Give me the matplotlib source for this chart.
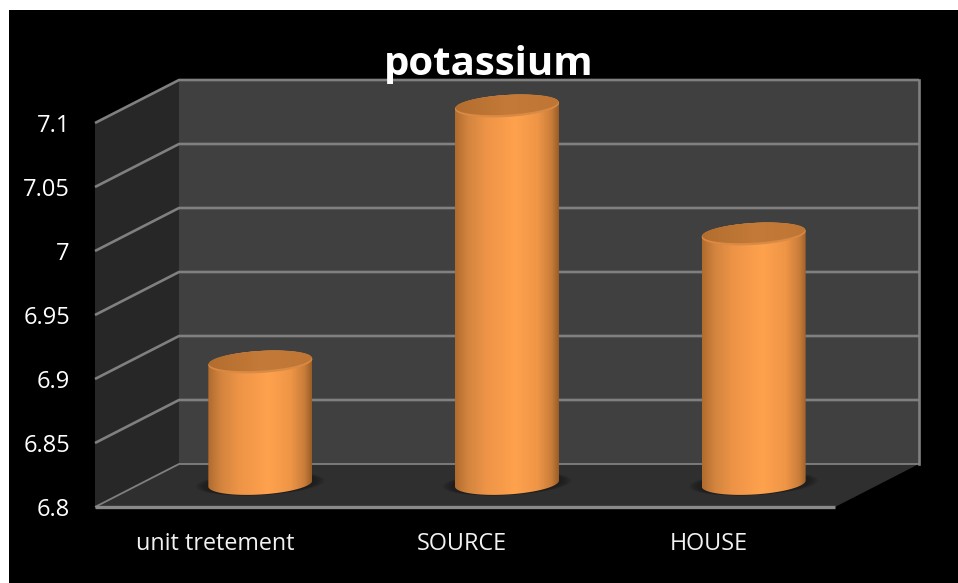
import numpy as np
import matplotlib
matplotlib.use('Agg')
import matplotlib.pyplot as plt
from matplotlib.colors import LinearSegmentedColormap
from matplotlib.patches import Polygon, Rectangle

categories = ['unit tretement', 'SOURCE', 'HOUSE']
values = [6.9, 7.1, 7.0]
yticks = [6.8, 6.85, 6.9, 6.95, 7.0, 7.05, 7.1]
ytick_labels = ['6.8', '6.85', '6.9', '6.95', '7', '7.05', '7.1']
title = 'potassium'

W, H = 958, 583
# pixel size of one category / one value unit on the front plane
CAT_PX = 740 / 3
VAL_PX = 384 / 0.3
X0, Y0 = 95, 507   # where the front plane starts
DEPTH_X = 84 / CAT_PX
DEPTH_Y = 43 / VAL_PX
XMIN, XMAX = -0.5, 2.5
YMIN, YMAX = yticks[0], yticks[-1]

plt.rcParams['font.family'] = ['Open Sans', 'DejaVu Sans']

fig = plt.figure(figsize=(W / 100, H / 100), dpi=100, facecolor='white')
ax = fig.add_axes([0, 0, 1, 1])
ax.axis('off')
xlim = (XMIN - X0 / CAT_PX, XMIN + (W - X0) / CAT_PX)
ylim = (YMIN - (H - Y0) / VAL_PX, YMIN + Y0 / VAL_PX)

# black slide behind everything, white margin on the top and left
ax.add_patch(Rectangle((xlim[0] + 9 / CAT_PX, ylim[0]), xlim[1] - xlim[0], ylim[1] - ylim[0] - 10 / VAL_PX,
                       fc='black', ec='none', zorder=0))

# walls and floor of the 3d box
ax.add_patch(Polygon([(XMIN + DEPTH_X, YMIN + DEPTH_Y), (XMAX + DEPTH_X, YMIN + DEPTH_Y),
                      (XMAX + DEPTH_X, YMAX + DEPTH_Y), (XMIN + DEPTH_X, YMAX + DEPTH_Y)],
                     fc='#404040', ec='none', zorder=1))
ax.add_patch(Polygon([(XMIN, YMIN), (XMIN + DEPTH_X, YMIN + DEPTH_Y),
                      (XMIN + DEPTH_X, YMAX + DEPTH_Y), (XMIN, YMAX)],
                     fc='#272727', ec='none', zorder=1))
ax.add_patch(Polygon([(XMIN, YMIN), (XMAX, YMIN), (XMAX + DEPTH_X, YMIN + DEPTH_Y),
                      (XMIN + DEPTH_X, YMIN + DEPTH_Y)],
                     fc='#2f2f2f', ec='none', zorder=1))

# gridlines run along the left wall and then the back wall
grid_color = '#808080'
for v in yticks:
    lw = 1.3 if v == YMIN else 1.9
    ax.plot([XMIN, XMIN + DEPTH_X, XMAX + DEPTH_X], [v, v + DEPTH_Y, v + DEPTH_Y],
            color=grid_color, lw=lw, zorder=2, solid_capstyle='butt')
ax.plot([XMAX + DEPTH_X] * 2, [YMIN + DEPTH_Y, YMAX + DEPTH_Y], color=grid_color, lw=1.9, zorder=2)
ax.plot([XMIN, XMAX], [YMIN, YMIN], color='#8a8a8a', lw=2.4, zorder=2, solid_capstyle='butt')

body_cmap = LinearSegmentedColormap.from_list('body', [
    (0.0, '#b06b2f'), (0.12, '#d2843e'), (0.3, '#ee9447'), (0.58, '#ffa24e'),
    (0.8, '#ee9546'), (0.93, '#c97d3a'), (1.0, '#9a5d27')])
top_cmap = LinearSegmentedColormap.from_list('top', ['#b26d2e', '#c47a38', '#bf7634'])
gradient = np.linspace(0, 1, 256).reshape(1, -1)

RX = 52 / CAT_PX
RY = 11 / VAL_PX
TILT = 3 / VAL_PX
BASE_LIFT = 23.5 / VAL_PX
TOP_LIFT = 17 / VAL_PX
t = np.linspace(0, 2 * np.pi, 181)


def ellipse(cx, cy, rx=RX, ry=RY, tilt=TILT):
    return np.column_stack([cx + rx * np.cos(t), cy + ry * np.sin(t) + tilt * np.cos(t)])


for i, v in enumerate(values):
    cx = i + DEPTH_X / 2
    base = YMIN + BASE_LIFT
    top = v + TOP_LIFT

    # soft shadow on the floor
    for k in np.linspace(1.0, 0.2, 10):
        ax.add_patch(Polygon(ellipse(cx, base, RX * (1 + 0.24 * k), RY * (1 + 0.05 * k)),
                             fc='#1a1a1a', ec='none', alpha=0.10, zorder=3))

    # cylinder side: lower half of the bottom ellipse plus the top ellipse
    lower = ellipse(cx, base)[t >= np.pi]
    upper = ellipse(cx, top)[t <= np.pi]
    side = Polygon(np.vstack([lower, upper]), fc='none', ec='none', zorder=4)
    ax.add_patch(side)
    im = ax.imshow(gradient, cmap=body_cmap, extent=(cx - RX, cx + RX, base - 2 * RY, top + 2 * RY),
                   aspect='auto', zorder=4)
    im.set_clip_path(side)

    # bevel ring then the flat top
    ax.add_patch(Polygon(ellipse(cx, top), fc='#d98a44', ec='none', zorder=5))
    cap = Polygon(ellipse(cx, top + 1.2 / VAL_PX, RX * 0.99, RY * 0.9), fc='none', ec='none', zorder=6)
    ax.add_patch(cap)
    im = ax.imshow(gradient, cmap=top_cmap, extent=(cx - RX, cx + RX, top - 2 * RY, top + 2 * RY),
                   aspect='auto', zorder=6)
    im.set_clip_path(cap)

ax.set_xlim(xlim)
ax.set_ylim(ylim)

for v, label in zip(yticks, ytick_labels):
    ax.text(XMIN - 25 / CAT_PX, v - 3 / VAL_PX, label, color='white', fontsize=17, ha='right', va='center', zorder=8)
for i, label in enumerate(categories):
    ax.text(i - 3 / CAT_PX, YMIN - 37 / VAL_PX, label, color='#f2f2f2', fontsize=16.8, ha='center', va='center', zorder=8)

ax.text(1 + 24 / CAT_PX, YMAX + DEPTH_Y + 16 / VAL_PX, title, color='white', fontsize=29, fontweight='bold',
        ha='center', va='center', zorder=8)

fig.savefig('out.png', dpi=100, facecolor=fig.get_facecolor())
